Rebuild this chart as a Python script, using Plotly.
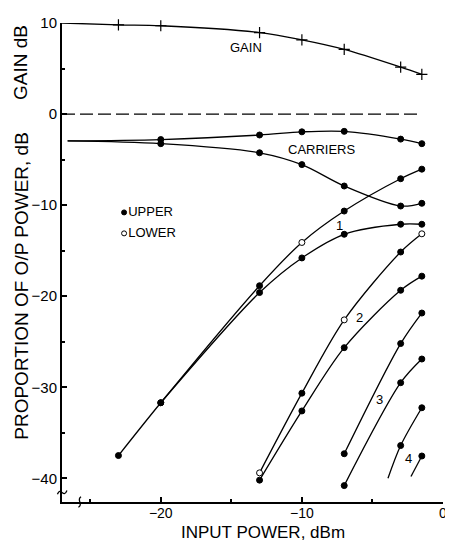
import plotly.graph_objects as go

# ---------------- data ----------------
input_power = [-23, -20, -13, -10, -7, -3, -1.5]

gain_x = [-27, -23, -20, -13, -10, -7, -3, -1.5]
gain_db = [10.0, 9.8, 9.7, 8.95, 8.15, 7.1, 5.15, 4.35]

zero_x = [-27, -1.5]
zero_y = [0, 0]

carrier_x = [-26.6, -20, -13, -10, -7, -3, -1.5]
carrier_upper = [-2.95, -2.8, -2.3, -1.95, -1.9, -2.75, -3.25]
carrier_lower = [-2.95, -3.25, -4.25, -5.55, -7.9, -10.1, -9.8]

# 1st-order intermod products (share low-power points)
im1_a_x = [-23, -20, -13, -10, -7, -3, -1.5]
im1_a_y = [-37.5, -31.7, -18.85, -14.1, -10.65, -7.1, -6.05]
im1_a_open = [False, False, False, True, False, False, False]
im1_b_x = [-20, -13, -10, -7, -3, -1.5]
im1_b_y = [-31.7, -19.6, -15.8, -13.2, -12.1, -12.1]
im1_b_open = [False, False, False, False, False, False]

# 2nd
im2_a_x = [-13, -10, -7, -3, -1.5]
im2_a_y = [-39.4, -30.65, -22.6, -15.15, -13.15]
im2_a_open = [True, False, True, False, True]
im2_b_x = [-13, -10, -7, -3, -1.5]
im2_b_y = [-40.2, -32.6, -25.65, -19.35, -17.8]
im2_b_open = [False, False, False, False, False]

# 3rd
im3_a_x = [-7, -3, -1.5]
im3_a_y = [-37.3, -25.2, -21.85]
im3_b_x = [-7, -3, -1.5]
im3_b_y = [-40.8, -29.5, -26.9]

# 4th (first point of each is an extrapolated line start, no marker)
im4_a_x = [-3.9, -3, -1.5]
im4_a_y = [-40.0, -36.4, -32.25]
im4_a_marked = [False, True, True]
im4_b_x = [-2.27, -1.5]
im4_b_y = [-39.8, -37.55]
im4_b_marked = [False, True]

legend_labels = ["UPPER", "LOWER"]
legend_x = [-22.6, -22.6]
legend_y = [-10.8, -13.1]
legend_open = [False, True]

x_range = [-27, 0]
y_range = [-42.6, 10]

# ---------------- styles ----------------
FONT = "Liberation Sans, Arial, Helvetica, sans-serif"
LW = 1.3
MS = 6


def face(open_flags):
    return ["white" if o else "black" for o in open_flags]


fig = go.Figure()


def curve(x, y, fills=None, sizes=None, marker=True):
    fig.add_trace(go.Scatter(
        x=x, y=y, mode="lines+markers" if marker else "lines",
        line=dict(color="black", width=LW, shape="spline", smoothing=0.9),
        marker=dict(symbol="circle", size=sizes if sizes is not None else MS,
                    color=fills if fills is not None else "black",
                    opacity=1,
                    line=dict(color="black", width=1)),
        cliponaxis=False, showlegend=False, hoverinfo="skip"))


# gain
fig.add_trace(go.Scatter(
    x=gain_x, y=gain_db, mode="lines+markers",
    line=dict(color="black", width=LW, shape="spline", smoothing=0.9),
    marker=dict(symbol="cross-thin", size=[0] + [8] * (len(gain_x) - 1),
                opacity=1, line=dict(color="black", width=1.2)),
    cliponaxis=False, showlegend=False, hoverinfo="skip"))

# zero dashed line
fig.add_trace(go.Scatter(
    x=zero_x, y=zero_y, mode="lines",
    line=dict(color="black", width=1.3, dash="13px,5px"),
    showlegend=False, hoverinfo="skip"))

# carriers
carrier_sizes = [0] + [MS] * (len(carrier_x) - 1)
curve(carrier_x, carrier_upper, sizes=carrier_sizes)
curve(carrier_x, carrier_lower, sizes=carrier_sizes)

# intermod products
curve(im1_a_x, im1_a_y, fills=face(im1_a_open))
curve(im1_b_x, im1_b_y, fills=face(im1_b_open))
curve(im2_a_x, im2_a_y, fills=face(im2_a_open))
curve(im2_b_x, im2_b_y, fills=face(im2_b_open))
curve(im3_a_x, im3_a_y)
curve(im3_b_x, im3_b_y)
curve(im4_a_x, im4_a_y, sizes=[MS if m else 0 for m in im4_a_marked])
curve(im4_b_x, im4_b_y, sizes=[MS if m else 0 for m in im4_b_marked])

# legend (markers + text)
fig.add_trace(go.Scatter(
    x=legend_x, y=legend_y, mode="markers+text", text=legend_labels,
    textposition="middle right",
    textfont=dict(family=FONT, size=13, color="black"),
    marker=dict(symbol="circle", size=5, color=face(legend_open),
                line=dict(color="black", width=1)),
    cliponaxis=False, showlegend=False, hoverinfo="skip"))

# text labels
labels = [
    ("GAIN", -13.95, 7.3),
    ("CARRIERS", -8.55, -3.9),
    ("1", -7.3, -12.2),
    ("2", -5.95, -22.3),
    ("3", -4.5, -31.3),
    ("4", -2.45, -37.8),
]
for t, lx, ly in labels:
    fig.add_annotation(x=lx, y=ly, text=t, showarrow=False,
                       xanchor="center", yanchor="middle",
                       font=dict(family=FONT, size=13, color="black"))

# axis titles
fig.add_annotation(xref="paper", yref="paper", x=0.527, y=-0.063,
                   xanchor="center", yanchor="middle",
                   text="INPUT POWER, dBm", showarrow=False,
                   font=dict(family=FONT, size=17, color="black"))
fig.add_annotation(xref="paper", yref="paper", x=-0.107, y=0.917,
                   xanchor="center", yanchor="middle",
                   text="GAIN dB", textangle=-90, showarrow=False,
                   font=dict(family=FONT, size=19, color="black"))
fig.add_annotation(xref="paper", yref="paper", x=-0.107, y=0.452,
                   xanchor="center", yanchor="middle",
                   text="PROPORTION OF O/P POWER, dB", textangle=-90,
                   showarrow=False,
                   font=dict(family=FONT, size=19, color="black"))

# axis break marks
fig.add_shape(type="path", xref="paper", yref="paper",
              path="M -0.012,0.016 C -0.004,0.034 0.004,0.006 0.013,0.024",
              line=dict(color="black", width=1.3))
fig.add_shape(type="path", xref="paper", yref="paper",
              path="M 0.043,-0.011 C 0.058,-0.004 0.036,0.004 0.050,0.011",
              line=dict(color="black", width=1.3))

fig.update_xaxes(range=x_range, showline=True, linecolor="black", linewidth=2,
                 showgrid=False, zeroline=False, ticks="inside", ticklen=5,
                 tickwidth=1.5, tickcolor="black", tick0=0, dtick=10,
                 ticklabelstandoff=-3,
                 minor=dict(ticks="inside", ticklen=3, dtick=5, tick0=0,
                            tickcolor="black", tickwidth=1.5),
                 tickfont=dict(family=FONT, size=14, color="black"))
fig.update_yaxes(range=y_range, showline=True, linecolor="black", linewidth=2,
                 showgrid=False, zeroline=False, ticks="inside", ticklen=5,
                 tickwidth=1.5, tickcolor="black", tick0=0, dtick=10,
                 minor=dict(ticks="inside", ticklen=3, dtick=5, tick0=0,
                            tickcolor="black", tickwidth=1.5),
                 tickfont=dict(family=FONT, size=15, color="black"))

# the page body adds an 8px offset; the figure is sized to compensate
fig.update_layout(width=445, height=534, plot_bgcolor="white",
                  paper_bgcolor="white",
                  margin=dict(l=54, r=6, t=9, b=40))

fig.write_html("out.html")
